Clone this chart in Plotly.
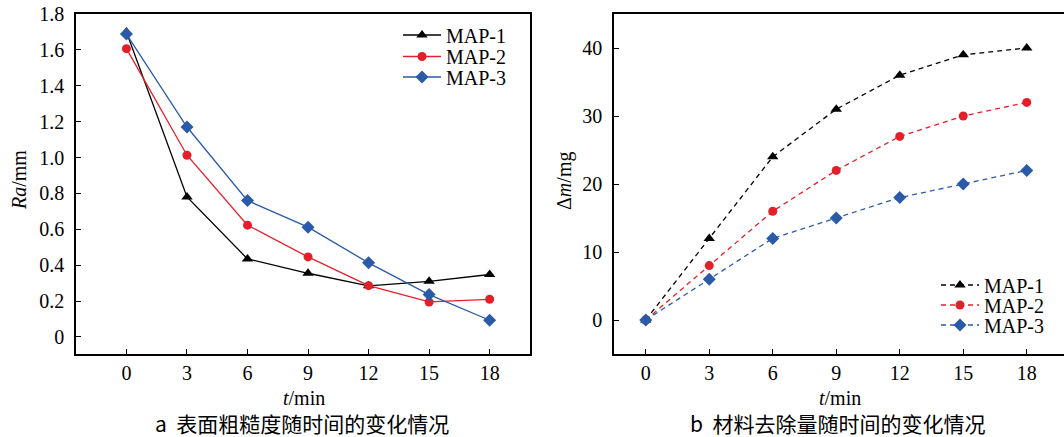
import plotly.graph_objects as go

t = [0, 3, 6, 9, 12, 15, 18]
series_names = ["MAP-1", "MAP-2", "MAP-3"]
ra_map1 = [1.70, 0.78, 0.435, 0.355, 0.285, 0.31, 0.348]
ra_map2 = [1.607, 1.013, 0.623, 0.446, 0.286, 0.195, 0.21]
ra_map3 = [1.688, 1.17, 0.76, 0.612, 0.413, 0.236, 0.093]
dm_map1 = [0, 12, 24, 31, 36, 39, 40]
dm_map2 = [0, 8, 16, 22, 27, 30, 32]
dm_map3 = [0, 6, 12, 15, 18, 20, 22]
ra_ticks = [0, 0.2, 0.4, 0.6, 0.8, 1.0, 1.2, 1.4, 1.6, 1.8]
ra_ticktext = ["0", "0.2", "0.4", "0.6", "0.8", "1.0", "1.2", "1.4", "1.6", "1.8"]
dm_ticks = [0, 10, 20, 30, 40]
t_ticks = [0, 3, 6, 9, 12, 15, 18]

W, H = 1064, 437
colors = ["#000000", "#e3202a", "#2a5aa8"]
symbols = ["triangle-up", "circle", "diamond"]
msizes = [10, 9, 10]
SERIF = "Liberation Serif, Times New Roman, serif"
CJK = "Noto Sans CJK SC"

def px(x):
    return x / W

def py(y):
    return 1 - y / H

fig = go.Figure()
ra = [ra_map1, ra_map2, ra_map3]
dm = [dm_map1, dm_map2, dm_map3]
for i in range(3):
    fig.add_trace(go.Scatter(
        x=t, y=ra[i], name=series_names[i], mode="lines+markers",
        line=dict(color=colors[i], width=1.3),
        marker=dict(symbol=symbols[i], size=msizes[i], color=colors[i]),
        xaxis="x", yaxis="y", legend="legend" if i == 0 else f"legend{i+1}",
    ))
for i in range(3):
    fig.add_trace(go.Scatter(
        x=t, y=dm[i], name=series_names[i], mode="lines+markers",
        line=dict(color=colors[i], width=1.3, dash="5px,4px"),
        marker=dict(symbol=symbols[i], size=msizes[i], color=colors[i]),
        xaxis="x2", yaxis="y2", legend=f"legend{i+4}",
    ))

axis_common = dict(
    showline=True, linecolor="black", linewidth=1.5, showgrid=False,
    zeroline=False, ticks="inside", ticklen=5, tickwidth=1.3, tickcolor="black",
    tickfont=dict(family=SERIF, size=20, color="black"), automargin=False,
)

fig.update_layout(
    width=W, height=H, margin=dict(l=0, r=0, t=0, b=0, autoexpand=False),
    paper_bgcolor="white", plot_bgcolor="white",
    xaxis=dict(domain=[px(76), px(530)], range=[-2.5, 20], tickvals=t_ticks,
               anchor="y", mirror=True, ticklabelstandoff=0, **axis_common),
    yaxis=dict(domain=[py(354), py(14)], range=[-0.095, 1.8], tickvals=ra_ticks,
               ticktext=ra_ticktext, anchor="x", mirror=True, ticklabelstandoff=6,
               **axis_common),
    xaxis2=dict(domain=[px(614), 1.0], range=[-1.5, 19.76], tickvals=t_ticks,
                anchor="y2", mirror=True, ticklabelstandoff=0, **axis_common),
    yaxis2=dict(domain=[py(354), py(14)], range=[-5, 45], tickvals=dm_ticks,
                anchor="x2", mirror=False, ticklabelstandoff=6, **axis_common),
    showlegend=True,
)

leg_font = dict(family=SERIF, size=20, color="black")
left_rows = [35, 56.5, 77]
right_rows = [285, 305, 325]
for i in range(3):
    key = "legend" if i == 0 else f"legend{i+1}"
    fig.update_layout({key: dict(x=px(398), y=py(left_rows[i]), xanchor="left",
                                 yanchor="middle", bgcolor="rgba(0,0,0,0)",
                                 font=leg_font, itemwidth=38)})
    fig.update_layout({f"legend{i+4}": dict(x=px(936), y=py(right_rows[i]), xanchor="left",
                                            yanchor="middle", bgcolor="rgba(0,0,0,0)",
                                            font=leg_font, itemwidth=38)})

ann = [
    dict(x=px(19), y=py(180), text="<i>Ra</i>/mm", textangle=-90),
    dict(x=px(564), y=py(181), text="Δ<i>m</i>/mg", textangle=-90),
    dict(x=px(304), y=py(398), text="<i>t</i>/min"),
    dict(x=px(840), y=py(398), text="<i>t</i>/min"),
]
for a in ann:
    fig.add_annotation(xref="paper", yref="paper", showarrow=False,
                       xanchor="center", yanchor="middle",
                       font=dict(family=SERIF, size=20, color="black"), **a)

caps = [
    (302, "a  表面粗糙度随时间的变化情况"),
    (837, "b  材料去除量随时间的变化情况"),
]
for cx, txt in caps:
    fig.add_annotation(xref="paper", yref="paper", showarrow=False,
                       x=px(cx), y=py(423), xanchor="center", yanchor="middle",
                       text=txt, font=dict(family=CJK + ", " + SERIF, size=21, color="black"))

fig.write_html("out.html", config={"displayModeBar": False},
               post_script="document.body.style.margin='0';document.body.style.overflow='hidden';")
